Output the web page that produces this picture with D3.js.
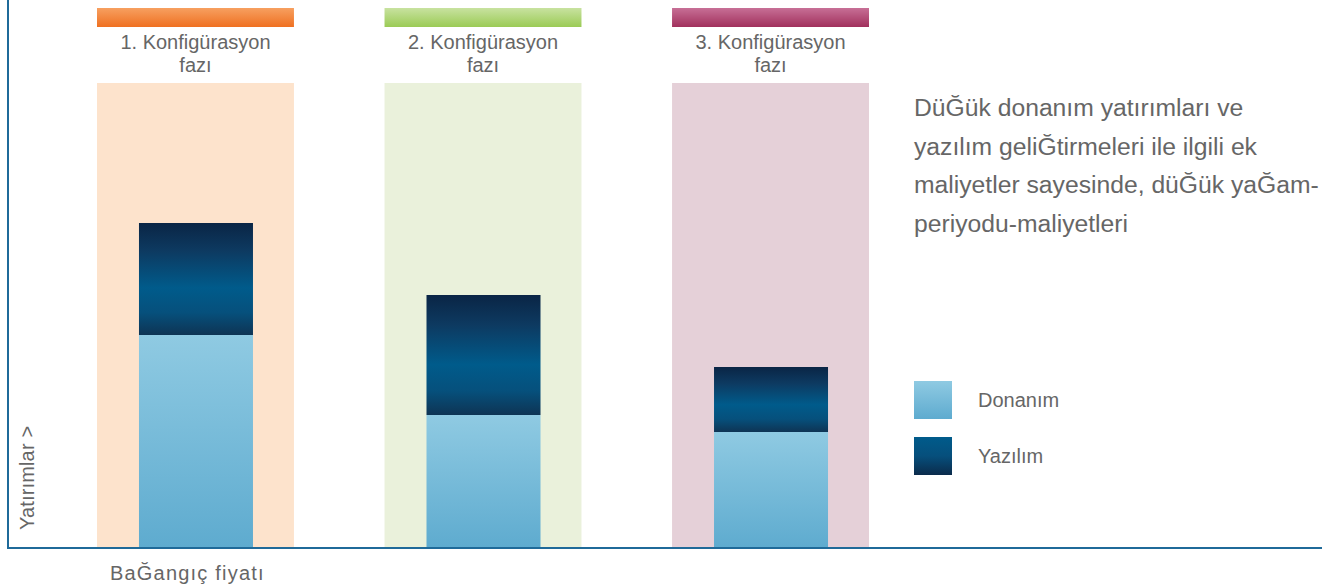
<!DOCTYPE html>
<html><head><meta charset="utf-8">
<script src="https://cdn.jsdelivr.net/npm/d3@7"></script>
<style>body{margin:0;background:#fff}svg{display:block;font-family:"Liberation Sans",Arial,sans-serif}</style>
</head><body><svg id="c" width="1331" height="587"></svg>
<script>
const phases = ["1. Konfigürasyon|fazı", "2. Konfigürasyon|fazı", "3. Konfigürasyon|fazı"];
const hardware = [42.6, 26.6, 23.2];
const software = [22.4, 24.0, 13.0];
const seriesNames = ["Donanım", "Yazılım"];
const headerColors = [["#f7a060", "#ef7021"], ["#c8e2a0", "#9bcb55"], ["#c76f96", "#a1305c"]];
const bgColors = ["#fde3cc", "#eaf1db", "#e5d0d8"];
const noteLines = ["DüĞük donanım yatırımları ve", "yazılım geliĞtirmeleri ile ilgili ek", "maliyetler sayesinde, düĞük yaĞam-", "periyodu-maliyetleri"];
const yAxisLabel = "Yatırımlar >";
const xAxisLabel = "BaĞangıç fiyatı";

const svg = d3.select("#c");
const defs = svg.append("defs");
function grad(id, stops) {
  const g = defs.append("linearGradient").attr("id", id).attr("x1", 0).attr("y1", 0).attr("x2", 0).attr("y2", 1);
  stops.forEach(s => g.append("stop").attr("offset", s[0]).attr("stop-color", s[1]));
}
grad("hw", [[0, "#8fcae2"], [1, "#5eabcf"]]);
grad("sw", [[0, "#0a2545"], [0.25, "#0d3a61"], [0.58, "#005b8b"], [0.8, "#06507c"], [1, "#0e3454"]]);
grad("swLeg", [[0, "#005b8b"], [0.5, "#064f7c"], [1, "#0b2b4b"]]);
headerColors.forEach((c, i) => grad("hd" + i, [[0, c[0]], [1, c[1]]]));

const baseY = 548;
const y = d3.scaleLinear().domain([0, 100]).range([baseY, 48]);
const xBand = d3.scaleBand().domain(d3.range(phases.length)).range([97, 869]).paddingInner(0.315).paddingOuter(0);
const bw = xBand.bandwidth();
const barW = 114;

const g = svg.append("g");
phases.forEach((p, i) => {
  const x0 = xBand(i);
  g.append("rect").attr("x", x0).attr("y", 83).attr("width", bw).attr("height", baseY - 83).attr("fill", bgColors[i]);
  g.append("rect").attr("x", x0).attr("y", 8).attr("width", bw).attr("height", 19).attr("fill", `url(#hd${i})`);
  const cx = x0 + bw / 2;
  const t = g.append("text").attr("x", cx).attr("y", 49).attr("text-anchor", "middle").attr("fill", "#666")
    .attr("font-size", 20);
  p.split("|").forEach((l, k) => t.append("tspan").attr("x", cx).attr("dy", k ? 22.5 : 0).text(l));
  const bx = cx - barW / 2 + 0.5;
  g.append("rect").attr("x", bx).attr("y", y(hardware[i])).attr("width", barW).attr("height", baseY - y(hardware[i])).attr("fill", "url(#hw)");
  g.append("rect").attr("x", bx).attr("y", y(hardware[i] + software[i])).attr("width", barW).attr("height", y(hardware[i]) - y(hardware[i] + software[i])).attr("fill", "url(#sw)");
});

// axes
svg.append("line").attr("x1", 8).attr("x2", 8).attr("y1", 0).attr("y2", baseY + 1).attr("stroke", "#1f6a99").attr("stroke-width", 2);
svg.append("line").attr("x1", 7).attr("x2", 1322).attr("y1", baseY).attr("y2", baseY).attr("stroke", "#1f6a99").attr("stroke-width", 2);

svg.append("text").attr("transform", "translate(34,530) rotate(-90)").attr("fill", "#666").attr("font-size", 20)
  .attr("letter-spacing", 0.15).text(yAxisLabel);
svg.append("text").attr("x", 110).attr("y", 580).attr("fill", "#666")
  .attr("font-size", 20).attr("letter-spacing", 1.2).text(xAxisLabel);

const note = svg.append("text").attr("fill", "#666").attr("font-size", 24.7);
noteLines.forEach((l, k) => note.append("tspan").attr("x", 914).attr("y", 116 + k * 38.7).text(l));

// legend
const fills = ["url(#hw)", "url(#swLeg)"];
seriesNames.forEach((n, k) => {
  const ly = 381 + k * 56;
  svg.append("rect").attr("x", 914).attr("y", ly).attr("width", 38).attr("height", 38).attr("fill", fills[k]);
  svg.append("text").attr("x", 978).attr("y", ly + 26).attr("fill", "#666").attr("font-size", 20).text(n);
});
</script></body></html>
